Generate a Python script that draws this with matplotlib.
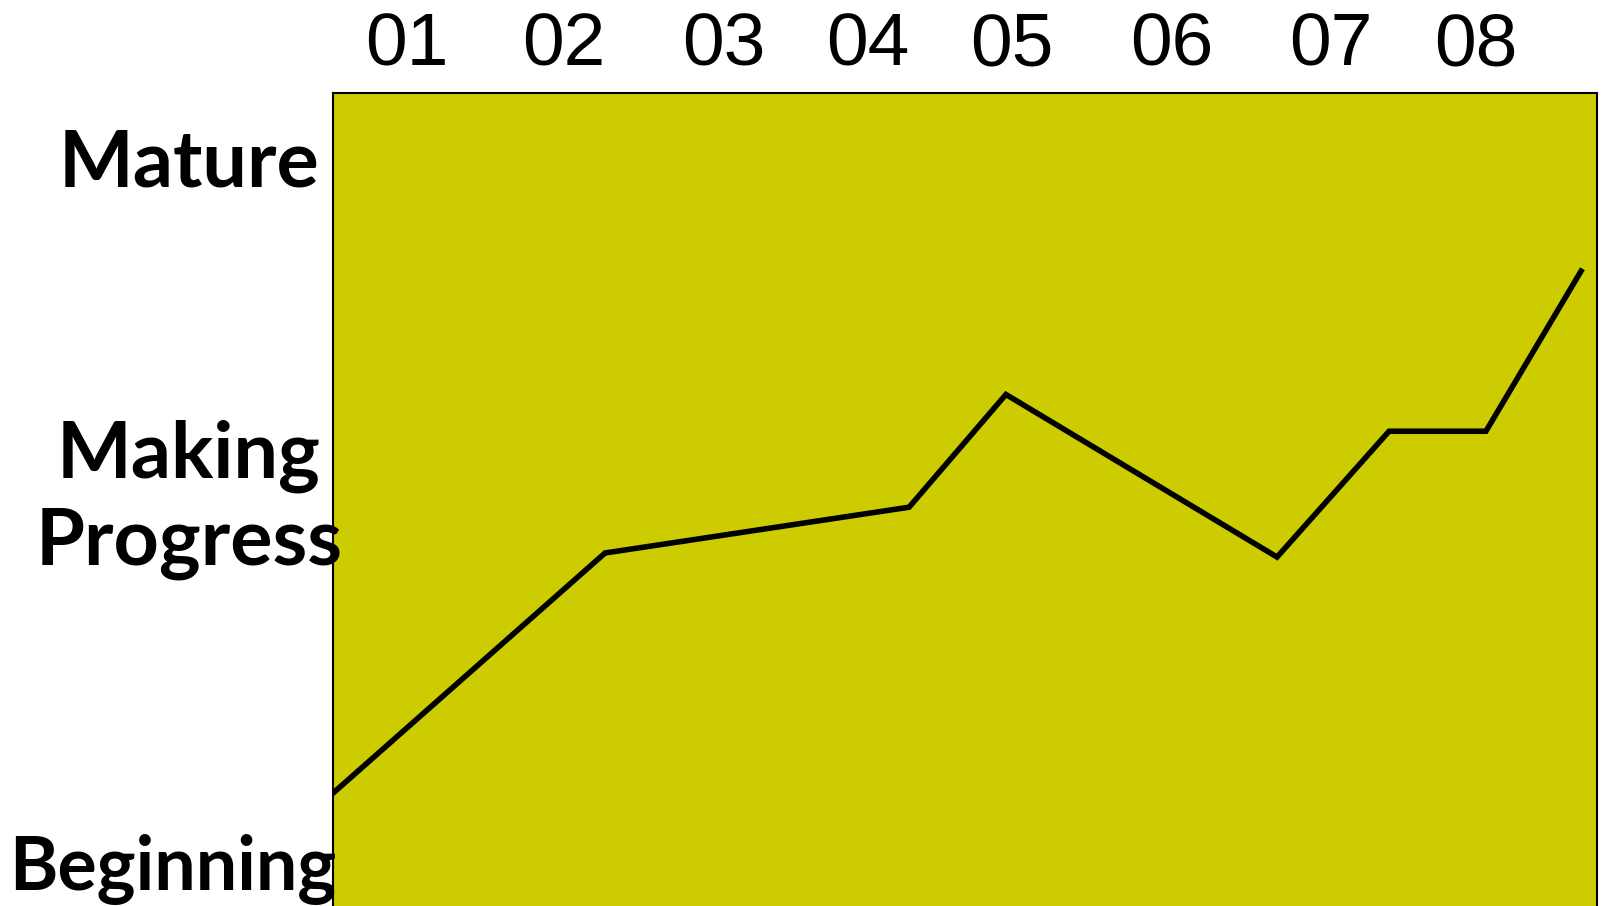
import matplotlib
matplotlib.use("Agg")
import matplotlib.pyplot as plt
import matplotlib.transforms as mtrans

# Data
period_labels = ["01", "02", "03", "04", "05", "06", "07", "08"]
period_pos = [0.466, 1.462, 2.473, 3.386, 4.297, 5.31, 6.316, 7.23]
line_x = [0.0, 1.722, 3.646, 4.259, 5.975, 6.684, 7.297, 7.899]
line_y = [1.43, 4.37, 4.93, 6.31, 4.32, 5.86, 5.86, 7.82]
level_labels = ["Mature", "Making\nProgress", "Beginning"]
level_pos = [9.13, 5.02, 0.49]

digit_font = ["Liberation Sans", "DejaVu Sans"]
label_font = "Lato"

W, H = 1603, 906
fig = plt.figure(figsize=(W / 100, H / 100), dpi=100)
left, right, top, bottom = 333, 1597, 93, 910
ax = fig.add_axes([left / W, 1 - bottom / H, (right - left) / W, (bottom - top) / H])
ax.set_facecolor("#cccc00")
ax.set_xlim(0, 8)
ax.set_ylim(0, 10)
for s in ax.spines.values():
    s.set_linewidth(1.5)
    s.set_color("black")

ax.plot(line_x, line_y, color="black", lw=4, solid_joinstyle="miter")

ax.xaxis.tick_top()
ax.set_xticks(period_pos)
ax.set_xticklabels(period_labels, fontsize=54, family=digit_font)
ax.tick_params(axis="x", length=0, pad=9)
ax.set_yticks([])

trans = mtrans.blended_transform_factory(ax.transAxes, ax.transData)
xs = [-0.114, -0.114, -0.127]
sizes = [57, 57, 53]
for lab, y, x, fs in zip(level_labels, level_pos, xs, sizes):
    ax.text(x, y, lab, transform=trans, ha="center", va="center", ma="center",
            fontsize=fs, family=label_font, fontweight="bold", linespacing=1.235)

fig.savefig("out.png", dpi=100)
